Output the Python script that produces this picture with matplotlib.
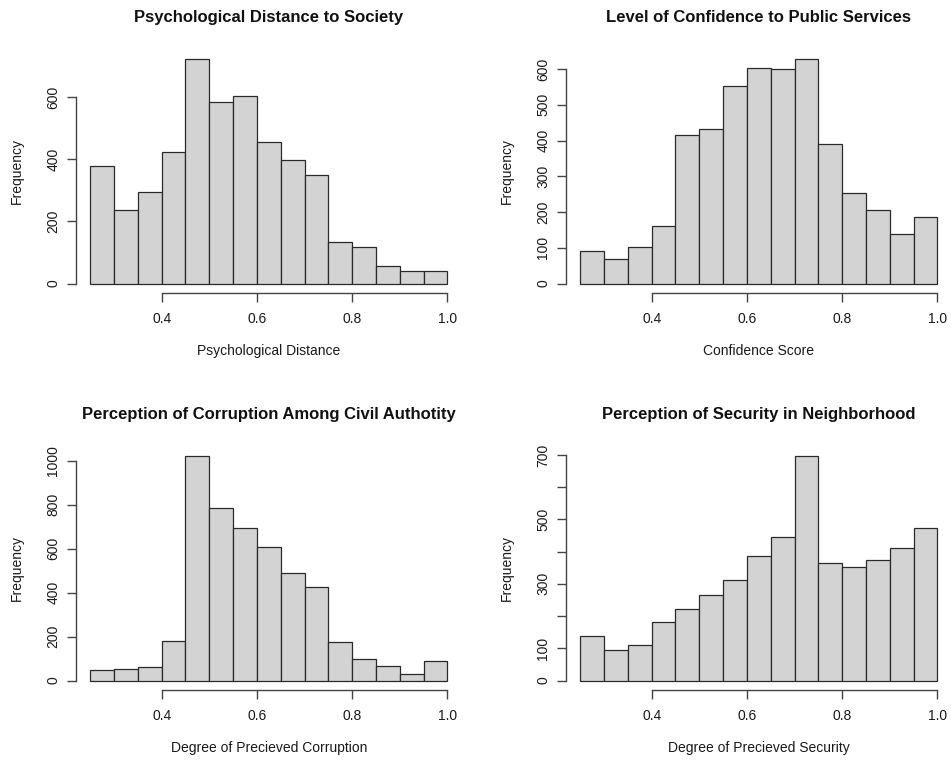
import numpy as np
import matplotlib
matplotlib.use("Agg")
import matplotlib.pyplot as plt

plt.rcParams["font.family"] = ["Liberation Sans", "DejaVu Sans"]

# bin edges shared by all four histograms
bin_edges = [0.25, 0.30, 0.35, 0.40, 0.45, 0.50, 0.55, 0.60,
             0.65, 0.70, 0.75, 0.80, 0.85, 0.90, 0.95, 1.00]

# counts
psych_dist = [379, 237, 294, 424, 723, 585, 603, 455, 398, 348, 135, 117, 57, 41, 40]
confidence = [92, 69, 101, 160, 415, 433, 553, 603, 601, 628, 389, 254, 205, 138, 186]
corruption = [50, 52, 61, 180, 1021, 783, 695, 606, 491, 426, 174, 98, 65, 29, 88]
security = [139, 96, 111, 182, 221, 267, 312, 386, 445, 697, 366, 352, 373, 411, 472]

titles = [
    "Psychological Distance to Society",
    "Level of Confidence to Public Services",
    "Perception of Corruption Among Civil Authotity",
    "Perception of Security in Neighborhood",
]
xlabels = [
    "Psychological Distance",
    "Confidence Score",
    "Degree of Precieved Corruption",
    "Degree of Precieved Security",
]
yticks = [
    [0, 200, 400, 600],
    [0, 100, 200, 300, 400, 500, 600],
    [0, 200, 400, 600, 800, 1000],
    [0, 100, 200, 300, 400, 500, 600, 700],
]
ytick_labels = [
    ["0", "200", "400", "600"],
    ["0", "100", "200", "300", "400", "500", "600"],
    ["0", "200", "400", "600", "800", "1000"],
    ["0", "100", "", "300", "", "500", "", "700"],
]
xticks = [0.4, 0.6, 0.8, 1.0]
xtick_labels = ["0.4", "0.6", "0.8", "1.0"]

W, H = 951, 764
fig = plt.figure(figsize=(W / 100, H / 100), dpi=100)

# panel boxes in pixels: (left, top, right, bottom)
boxes = [
    (76, 50, 461.6, 292.5),
    (566, 50, 951.6, 292.5),
    (76, 447, 461.6, 689.5),
    (566, 447, 951.6, 689.5),
]

data = [psych_dist, confidence, corruption, security]
line_col = "#444444"

for i, counts in enumerate(data):
    l, t, r, b = boxes[i]
    ax = fig.add_axes([l / W, 1 - b / H, (r - l) / W, (b - t) / H])
    ax.patch.set_alpha(0)

    widths = np.diff(bin_edges)
    ax.bar(bin_edges[:-1], counts, width=widths, align="edge",
           color="#D3D3D3", edgecolor="#2a2a2a", linewidth=0.9)

    ymax = max(counts)
    ax.set_xlim(0.22, 1.03)
    ax.set_ylim(-0.04 * ymax, 1.04 * ymax)

    for s in ["top", "right"]:
        ax.spines[s].set_visible(False)
    ax.spines["left"].set_bounds(yticks[i][0], yticks[i][-1])
    ax.spines["bottom"].set_bounds(xticks[0], xticks[-1])
    for s in ["left", "bottom"]:
        ax.spines[s].set_color(line_col)
        ax.spines[s].set_linewidth(1.0)

    ax.set_xticks(xticks)
    ax.set_xticklabels(xtick_labels)
    ax.set_yticks(yticks[i])
    ax.set_yticklabels(ytick_labels[i], rotation=90, va="center")

    ax.tick_params(axis="both", direction="out", length=6.2, width=1.0,
                   color=line_col, labelsize=10, labelcolor="#1a1a1a")
    ax.tick_params(axis="x", pad=7.5)
    ax.tick_params(axis="y", pad=5)

    ax.set_title(titles[i], fontsize=12, fontweight="bold", pad=20,
                 color="#111111")
    ax.set_xlabel(xlabels[i], fontsize=10, color="#1a1a1a")
    ax.xaxis.set_label_coords(0.5, -0.214)
    ax.set_ylabel("Frequency", fontsize=10, color="#1a1a1a")
    ax.yaxis.set_label_coords(-0.135, 0.5)

fig.savefig("out.png", dpi=100, facecolor="white")
